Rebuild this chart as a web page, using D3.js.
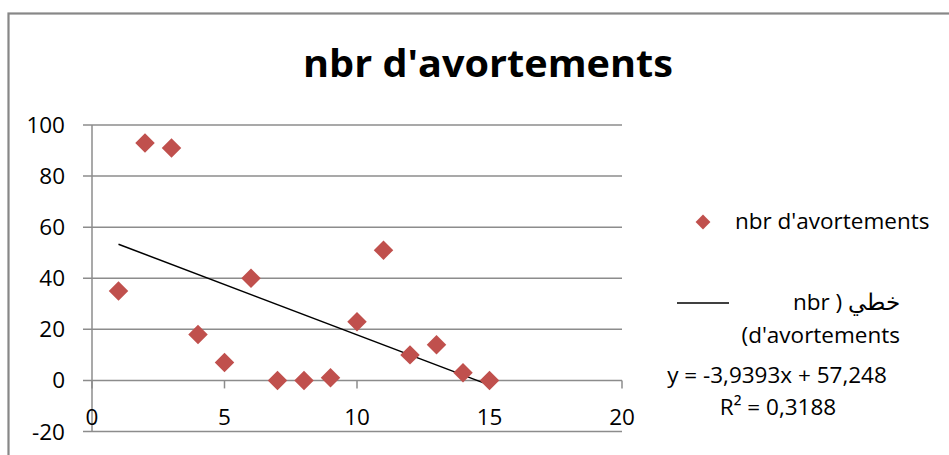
<!DOCTYPE html>
<html>
<head>
<meta charset="utf-8">
<script src="https://cdn.jsdelivr.net/npm/d3@7"></script>
<style>
  html, body { margin: 0; padding: 0; background: #fff; }
  svg text { font-family: "Open Sans", "Liberation Sans", sans-serif; fill: #000; }
</style>
</head>
<body>
<svg id="chart" width="949" height="455"></svg>
<script>
// Observations: index (x) and number of abortions (y)
const xValues = [1, 2, 3, 4, 5, 6, 7, 8, 9, 10, 11, 12, 13, 14, 15];
const abortions = [35, 93, 91, 18, 7, 40, 0, 0, 1, 23, 51, 10, 14, 3, 0];
const xTicks = [0, 5, 10, 15, 20];
const yTicks = [-20, 0, 20, 40, 60, 80, 100];
const title = "nbr d'avortements";
const seriesName = "nbr d'avortements";
const trendLabel1 = "nbr ) خطي";
const trendLabel2 = "(d'avortements";
const equationText = "y = -3,9393x + 57,248";
const r2Text = "R² = 0,3188";

const svg = d3.select("#chart");
const gridColor = "#8c8c8c";
const markColor = "#c0504d";
const labelSize = 22.5;

// Chart frame
svg.append("rect")
  .attr("x", 8.5).attr("y", 13.5)
  .attr("width", 1000).attr("height", 500)
  .attr("fill", "none").attr("stroke", "#878787").attr("stroke-width", 2.2);

const x = d3.scaleLinear().domain([0, 20]).range([92, 622]);
const y = d3.scaleLinear().domain([-20, 100]).range([431.5, 125]);

// Horizontal gridlines (extend a little left of the axis, like tick marks)
svg.append("g").selectAll("line").data(yTicks).join("line")
  .attr("x1", x(0) - 9).attr("x2", x(20))
  .attr("y1", d => y(d)).attr("y2", d => y(d))
  .attr("stroke", gridColor).attr("stroke-width", 1.5);

// Vertical axis
svg.append("line")
  .attr("x1", x(0)).attr("x2", x(0))
  .attr("y1", y(100)).attr("y2", y(-20))
  .attr("stroke", gridColor).attr("stroke-width", 1.5);

// Horizontal axis ticks hang below the zero line
svg.append("g").selectAll("line").data(xTicks).join("line")
  .attr("x1", d => x(d)).attr("x2", d => x(d))
  .attr("y1", y(0)).attr("y2", y(0) + 8)
  .attr("stroke", gridColor).attr("stroke-width", 1.5);

// Y tick labels
svg.append("g").selectAll("text").data(yTicks).join("text")
  .attr("x", 65).attr("y", d => y(d) + 8)
  .attr("text-anchor", "end")
  .attr("font-size", labelSize)
  .text(d => d);

// X tick labels
svg.append("g").selectAll("text").data(xTicks).join("text")
  .attr("x", d => x(d)).attr("y", 425)
  .attr("text-anchor", "middle")
  .attr("font-size", labelSize)
  .text(d => d);

// Linear trend (least squares) over the observed range
const n = xValues.length;
const mx = d3.mean(xValues), my = d3.mean(abortions);
let sxy = 0, sxx = 0;
for (let i = 0; i < n; i++) {
  sxy += (xValues[i] - mx) * (abortions[i] - my);
  sxx += (xValues[i] - mx) ** 2;
}
const slope = sxy / sxx, intercept = my - slope * mx;
const x0 = d3.min(xValues), x1 = d3.max(xValues);
svg.append("line")
  .attr("x1", x(x0)).attr("y1", y(intercept + slope * x0))
  .attr("x2", x(x1)).attr("y2", y(intercept + slope * x1))
  .attr("stroke", "#000").attr("stroke-width", 1.5);

// Scatter markers (diamonds)
const diamond = d3.symbol().type(d3.symbolSquare).size(190);
svg.append("g").selectAll("path").data(xValues).join("path")
  .attr("d", diamond)
  .attr("transform", (d, i) => `translate(${x(d)},${y(abortions[i])}) rotate(45)`)
  .attr("fill", markColor);

// Title
svg.append("text")
  .attr("x", 488).attr("y", 77)
  .attr("text-anchor", "middle")
  .attr("font-size", 38).attr("font-weight", "bold")
  .attr("textLength", 370).attr("lengthAdjust", "spacingAndGlyphs")
  .text(title);

// Legend: series
svg.append("path")
  .attr("d", d3.symbol().type(d3.symbolSquare).size(110))
  .attr("transform", "translate(703,222) rotate(45)")
  .attr("fill", markColor);
svg.append("text")
  .attr("x", 735).attr("y", 229)
  .attr("font-size", labelSize)
  .text(seriesName);

// Legend: trend line
svg.append("line")
  .attr("x1", 677).attr("x2", 729).attr("y1", 303).attr("y2", 303)
  .attr("stroke", "#000").attr("stroke-width", 1.5);
svg.append("text")
  .attr("x", 900).attr("y", 310)
  .attr("text-anchor", "end").attr("direction", "ltr")
  .attr("font-size", labelSize)
  .text(trendLabel1);
svg.append("text")
  .attr("x", 900).attr("y", 343)
  .attr("text-anchor", "end")
  .attr("font-size", labelSize)
  .text(trendLabel2);

// Trend equation and R²
svg.append("text")
  .attr("x", 777).attr("y", 383)
  .attr("text-anchor", "middle")
  .attr("font-size", labelSize)
  .text(equationText);
svg.append("text")
  .attr("x", 778).attr("y", 415)
  .attr("text-anchor", "middle")
  .attr("font-size", labelSize)
  .text(r2Text);
</script>
</body>
</html>
